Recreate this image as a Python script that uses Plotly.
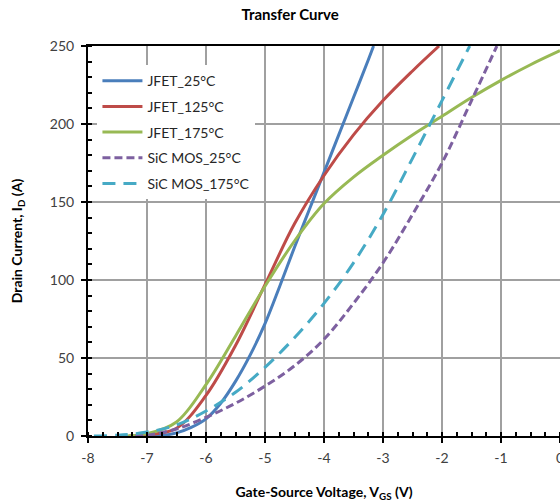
import plotly.graph_objects as go

# Data
jfet25_v = [-7.0, -6.75, -6.5, -6.25, -6.0, -5.75, -5.5, -5.25, -5.0, -4.75, -4.5, -4.25, -4.0, -3.75, -3.5, -3.25, -3.16]
jfet25_i = [0, 0.3, 2, 5.5, 11, 21, 35, 52, 72, 96, 121, 145, 169, 193, 217, 241, 250]

jfet125_v = [-7.3, -7.0, -6.5, -6.0, -5.5, -5.0, -4.5, -4.0, -3.5, -3.0, -2.5, -2.05]
jfet125_i = [0, 0.7, 5, 26, 58, 97, 136, 167, 193, 215, 234, 250]

jfet175_v = [-7.5, -7.0, -6.5, -6.0, -5.5, -5.0, -4.5, -4.0, -3.5, -3.0, -2.5, -2.0, -1.5, -1.0, -0.5, 0.0]
jfet175_i = [0, 1.5, 9, 33, 64, 96, 125, 149, 166, 180, 193, 205, 217, 228, 238, 247]

sic25_v = [-7.2, -7.0, -6.5, -6.0, -5.5, -5.0, -4.5, -4.0, -3.5, -3.0, -2.5, -2.0, -1.5, -1.07]
sic25_i = [0, 0.5, 4.5, 12, 21, 32, 45, 62, 85, 111, 142, 175, 215, 250]

sic175_v = [-7.9, -7.5, -7.0, -6.5, -6.0, -5.5, -5.0, -4.5, -4.0, -3.5, -3.0, -2.5, -2.0, -1.53]
sic175_i = [0, 0.5, 2.5, 7, 16, 28, 44, 63, 85, 111, 142, 178, 215, 250]

x_ticks = [-8, -7, -6, -5, -4, -3, -2, -1, 0]
y_ticks = [0, 50, 100, 150, 200, 250]

series = [
    ("JFET_25°C", jfet25_v, jfet25_i, "#4A7EBB", "solid"),
    ("JFET_125°C", jfet125_v, jfet125_i, "#BE4B48", "solid"),
    ("JFET_175°C", jfet175_v, jfet175_i, "#98B954", "solid"),
    ("SiC MOS_25°C", sic25_v, sic25_i, "#7D60A0", "8px,4px"),
    ("SiC MOS_175°C", sic175_v, sic175_i, "#46AAC5", "13px,8px"),
]

fig = go.Figure()
for i, (name, xv, yv, color, dash) in enumerate(series):
    fig.add_trace(go.Scatter(
        x=xv, y=yv, name=name, mode="lines",
        line=dict(color=color, width=3, dash=dash, shape="spline", smoothing=1.0),
        legendgroup=f"g{i}",
    ))

font_family = "Lato, Carlito, Calibri, sans-serif"

fig.update_layout(
    width=560, height=504,
    margin=dict(l=88, r=0, t=46, b=68),
    paper_bgcolor="white", plot_bgcolor="white",
    font=dict(family=font_family, size=14, color="#404040"),
    title=dict(text="Transfer Curve", x=0.518, xref="container", xanchor="center",
               y=0.97, yref="container", yanchor="middle",
               font=dict(size=15, color="#000000", weight="bold")),
    showlegend=True,
    legend=dict(x=0.02, y=0.951, xanchor="left", yanchor="top",
                bgcolor="rgba(255,255,255,1)", borderwidth=0,
                font=dict(size=14, color="#262626"),
                tracegroupgap=4.5, itemwidth=40),
)

fig.update_xaxes(
    range=[-8, 0], tickvals=x_ticks, ticktext=[str(v) for v in x_ticks],
    ticklabeloverflow="allow", automargin=False,
    showgrid=True, gridcolor="#A0A0A0", gridwidth=1.5,
    showline=True, linecolor="black", linewidth=2, mirror=True,
    ticks="outside", ticklen=5, tickwidth=2, tickcolor="black",
    ticklabelstandoff=3,
    minor=dict(dtick=0.25, ticks="inside", ticklen=4, tickwidth=1.5, tickcolor="black", showgrid=False),
    zeroline=False,
    tickfont=dict(size=14, color="#404040"),
    title=dict(text="Gate-Source Voltage, V<sub>GS</sub> (V)", standoff=22,
               font=dict(size=14, color="#000000", weight="bold")),
)

fig.update_yaxes(
    range=[0, 250], tickvals=y_ticks, ticktext=[str(v) for v in y_ticks],
    automargin=False,
    showgrid=True, gridcolor="#A0A0A0", gridwidth=1.5,
    showline=True, linecolor="black", linewidth=2,
    ticks="outside", ticklen=5, tickwidth=2, tickcolor="black",
    ticklabelstandoff=4,
    minor=dict(dtick=10, ticks="inside", ticklen=4, tickwidth=1.5, tickcolor="black", showgrid=False),
    zeroline=False,
    tickfont=dict(size=14, color="#404040"),
    title=dict(text="Drain Current, I<sub>D</sub> (A)", standoff=24,
               font=dict(size=14, color="#000000", weight="bold")),
)

fig.write_html("out.html")
